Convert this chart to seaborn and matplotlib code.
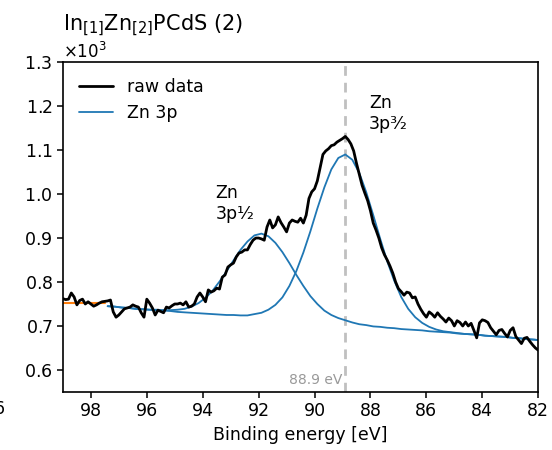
import numpy as np
import pandas as pd
import matplotlib
matplotlib.use("Agg")
import matplotlib.pyplot as plt
import seaborn as sns
from matplotlib.lines import Line2D
from matplotlib.ticker import MultipleLocator, ScalarFormatter

# ---------------- data ----------------
energy_raw = [
    99.0, 98.9, 98.8, 98.7, 98.6, 98.5, 98.4, 98.3, 98.2, 98.1,
    98.0, 97.9, 97.8, 97.7, 97.6, 97.5, 97.4, 97.3, 97.2, 97.1,
    97.0, 96.9, 96.8, 96.7, 96.6, 96.5, 96.4, 96.3, 96.2, 96.1,
    96.0, 95.9, 95.8, 95.7, 95.6, 95.5, 95.4, 95.3, 95.2, 95.1,
    95.0, 94.9, 94.8, 94.7, 94.6, 94.5, 94.4, 94.3, 94.2, 94.1,
    94.0, 93.9, 93.8, 93.7, 93.6, 93.5, 93.4, 93.3, 93.2, 93.1,
    93.0, 92.9, 92.8, 92.7, 92.6, 92.5, 92.4, 92.3, 92.2, 92.1,
    92.0, 91.9, 91.8, 91.7, 91.6, 91.5, 91.4, 91.3, 91.2, 91.1,
    91.0, 90.9, 90.8, 90.7, 90.6, 90.5, 90.4, 90.3, 90.2, 90.1,
    90.0, 89.9, 89.8, 89.7, 89.6, 89.5, 89.4, 89.3, 89.2, 89.1,
    89.0, 88.9, 88.8, 88.7, 88.6, 88.5, 88.4, 88.3, 88.2, 88.1,
    88.0, 87.9, 87.8, 87.7, 87.6, 87.5, 87.4, 87.3, 87.2, 87.1,
    87.0, 86.9, 86.8, 86.7, 86.6, 86.5, 86.4, 86.3, 86.2, 86.1,
    86.0, 85.9, 85.8, 85.7, 85.6, 85.5, 85.4, 85.3, 85.2, 85.1,
    85.0, 84.9, 84.8, 84.7, 84.6, 84.5, 84.4, 84.3, 84.2, 84.1,
    84.0, 83.9, 83.8, 83.7, 83.6, 83.5, 83.4, 83.3, 83.2, 83.1,
    83.0, 82.9, 82.8, 82.7, 82.6, 82.5, 82.4, 82.3, 82.2, 82.1,
    82.0,
]
raw_counts = [
    762, 760, 761, 775, 766, 748, 758, 761, 750, 755,
    750, 745, 748, 752, 755, 756, 757, 759, 732, 720,
    725, 732, 739, 741, 743, 748, 745, 743, 730, 720,
    761, 752, 741, 725, 736, 733, 730, 743, 741, 746,
    750, 750, 752, 748, 755, 743, 745, 750, 766, 775,
    766, 755, 782, 777, 780, 786, 784, 811, 816, 834,
    839, 843, 857, 866, 868, 873, 873, 885, 895, 900,
    900, 898, 895, 925, 941, 923, 930, 948, 935, 925,
    914, 934, 941, 938, 936, 945, 934, 952, 990, 1005,
    1012, 1030, 1060, 1090, 1098, 1103, 1110, 1112, 1118, 1122,
    1126, 1131, 1124, 1114, 1098, 1070, 1045, 1020, 1002, 985,
    962, 934, 918, 900, 878, 862, 850, 836, 820, 800,
    785, 778, 770, 777, 775, 764, 766, 750, 738, 728,
    720, 732, 727, 720, 730, 722, 716, 709, 718, 712,
    700, 712, 708, 700, 709, 700, 706, 690, 673, 707,
    714, 712, 708, 696, 688, 680, 690, 692, 683, 675,
    690, 696, 676, 668, 660, 672, 674, 665, 657, 650,
    645,
]

energy_fit = [
    97.4, 97.15, 96.9, 96.65, 96.4, 96.15, 95.9, 95.65, 95.4, 95.15,
    94.9, 94.65, 94.4, 94.15, 93.9, 93.65, 93.4, 93.15, 92.9, 92.65,
    92.4, 92.15, 91.9, 91.65, 91.4, 91.15, 90.9, 90.65, 90.4, 90.15,
    89.9, 89.65, 89.4, 89.15, 88.9, 88.65, 88.4, 88.15, 87.9, 87.65,
    87.4, 87.15, 86.9, 86.65, 86.4, 86.15, 85.9, 85.65, 85.4, 85.15,
    84.9, 84.65, 84.4, 84.15, 83.9, 83.65, 83.4, 83.15, 82.9, 82.65,
    82.4, 82.15, 82.0,
]
zn3p_half = [  # Zn 3p1/2 component (incl. background)
    745, 744, 742, 741, 739, 738, 737, 737, 736, 736,
    737, 739, 744, 752, 764, 780, 801, 824, 849, 873,
    892, 906, 910, 904, 889, 868, 843, 816, 791, 768,
    750, 735, 725, 718, 713, 708, 704, 702, 699, 698,
    696, 695, 693, 692, 691, 690, 688, 687, 686, 685,
    683, 682, 681, 680, 678, 677, 676, 675, 673, 672,
    670, 669, 668,
]
zn3p_three_half = [  # Zn 3p3/2 component (incl. background)
    745, 744, 742, 741, 739, 738, 737, 736, 735, 734,
    732, 731, 730, 729, 728, 727, 726, 725, 725, 724,
    724, 727, 730, 737, 748, 765, 791, 825, 867, 915,
    967, 1015, 1056, 1082, 1090, 1078, 1048, 1004, 952, 898,
    847, 803, 766, 739, 720, 707, 698, 692, 688, 686,
    684, 682, 681, 680, 678, 677, 676, 675, 673, 672,
    670, 669, 668,
]
bg_energy = [99.0, 97.5]
bg_counts = [752, 752]

peak_position = 88.9
x_ticks = [98, 96, 94, 92, 90, 88, 86, 84, 82]

# ---------------- plot ----------------
sns.set_style("ticks")
plt.rcParams["font.family"] = ["DejaVu Sans"]
plt.rcParams["mathtext.fontset"] = "dejavusans"
for key in ["text.color", "axes.labelcolor", "xtick.color", "ytick.color",
            "axes.edgecolor"]:
    plt.rcParams[key] = "black"

fig = plt.figure(figsize=(5.52, 4.5), dpi=100)
ax = fig.add_axes([0.114, 0.129, 0.861, 0.733])

blue = "#1f77b4"
df_bg = pd.DataFrame({"energy": bg_energy, "counts": bg_counts})
df_c1 = pd.DataFrame({"energy": energy_fit, "counts": zn3p_half})
df_c2 = pd.DataFrame({"energy": energy_fit, "counts": zn3p_three_half})
df_raw = pd.DataFrame({"energy": energy_raw, "counts": raw_counts})

sns.lineplot(data=df_bg, x="energy", y="counts", color="#ff7f0e", lw=1.5,
             estimator=None, sort=False, ax=ax, zorder=1)
sns.lineplot(data=df_c1, x="energy", y="counts", color=blue, lw=1.3,
             estimator=None, sort=False, ax=ax, zorder=2)
sns.lineplot(data=df_c2, x="energy", y="counts", color=blue, lw=1.3,
             estimator=None, sort=False, ax=ax, zorder=2)
sns.lineplot(data=df_raw, x="energy", y="counts", color="black", lw=2.0,
             estimator=None, sort=False, ax=ax, zorder=3)

ax.axvline(peak_position, color="#c0c0c0", lw=2.0, ls=(0, (3.5, 2.5)), zorder=0)
ax.text(peak_position + 0.12, 562, f"{peak_position} eV", color="#999999",
        fontsize=10, ha="right", va="bottom")

ax.text(88.05, 1228, "Zn\n3p\u00b3\u2044\u2082", fontsize=12.5, ha="left",
        va="top", linespacing=1.2)
ax.text(93.55, 1022, "Zn\n3p\u00b9\u2044\u2082", fontsize=12.5, ha="left",
        va="top", linespacing=1.2)

ax.set_xlim(99, 82)
ax.set_ylim(550, 1300)
ax.set_xticks(x_ticks)
ax.yaxis.set_major_locator(MultipleLocator(100))
fmt = ScalarFormatter(useMathText=True)
fmt.set_powerlimits((0, 0))
ax.yaxis.set_major_formatter(fmt)
ax.yaxis.get_offset_text().set_fontsize(12)

ax.set_xlabel("Binding energy [eV]", fontsize=12.5)
ax.set_ylabel("")
ax.tick_params(labelsize=12.5, length=4, width=1.1, direction="out",
               colors="black")
for s in ax.spines.values():
    s.set_linewidth(1.2)
    s.set_visible(True)
    s.set_color("black")

ax.set_title(r"In$_{[1]}$Zn$_{[2]}$PCdS (2)", loc="left", fontsize=15,
             y=1.097, pad=0, color="black")

handles = [Line2D([], [], color="black", lw=2.0),
           Line2D([], [], color=blue, lw=1.3)]
ax.legend(handles, ["raw data", "Zn 3p"], loc="upper left", frameon=False,
          fontsize=12.5)

fig.text(-6 / 552, 1 - 409 / 450, "6", fontsize=12.5, ha="left", va="center")

fig.savefig("out.png", dpi=100)
